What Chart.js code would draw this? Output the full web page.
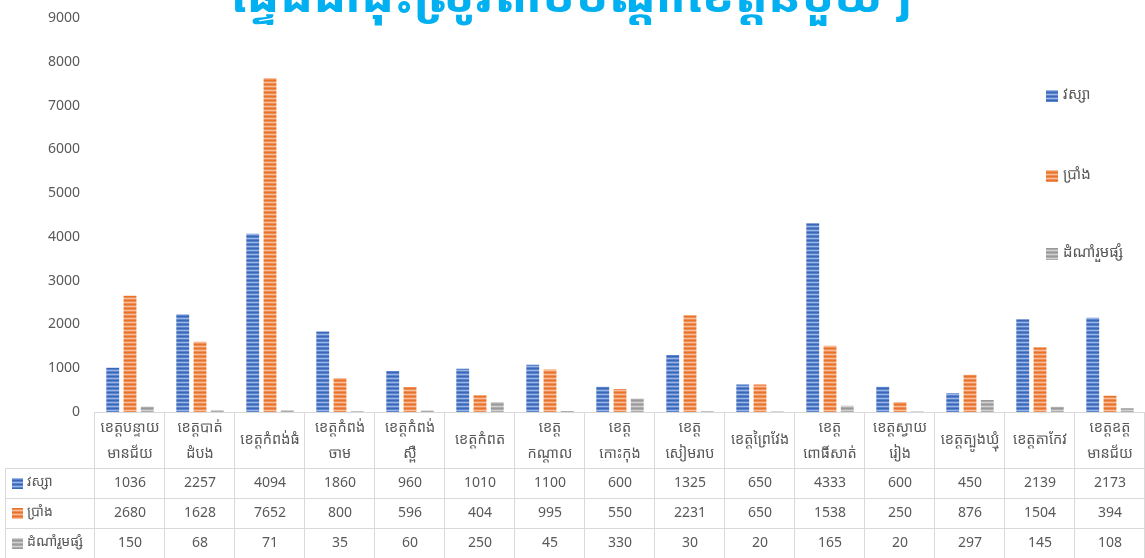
<!DOCTYPE html>
<html>
<head>
<meta charset="utf-8">
<script src="https://cdn.jsdelivr.net/npm/chart.js@4.4.0/dist/chart.umd.min.js"></script>
<style>
  html, body { margin: 0; padding: 0; background: #fff; }
  #wrap { width: 1145px; height: 558px; position: relative; }
</style>
</head>
<body>
<div id="wrap"><canvas id="chart" width="1145" height="558"></canvas></div>
<script>
// ---- data ----
const TITLE = 'ផ្ទៃដីដាំដុះស្រូវតាមបណ្ដាខេត្តនីមួយៗ';
const PROVINCES = [
  ['ខេត្តបន្ទាយ', 'មានជ័យ'], ['ខេត្តបាត់', 'ដំបង'], ['ខេត្តកំពង់ធំ'], ['ខេត្តកំពង់', 'ចាម'],
  ['ខេត្តកំពង់', 'ស្ពឺ'], ['ខេត្តកំពត'], ['ខេត្ត', 'កណ្ដាល'], ['ខេត្ត', 'កោះកុង'],
  ['ខេត្ត', 'សៀមរាប'], ['ខេត្តព្រៃវែង'], ['ខេត្ត', 'ពោធិ៍សាត់'], ['ខេត្តស្វាយ', 'រៀង'],
  ['ខេត្តត្បូងឃ្មុំ'], ['ខេត្តតាកែវ'], ['ខេត្តឧត្ត', 'មានជ័យ']
];
const SERIES_NAMES = ['វស្សា', 'ប្រាំង', 'ដំណាំរួមផ្សំ'];
const WET   = [1036, 2257, 4094, 1860, 960, 1010, 1100, 600, 1325, 650, 4333, 600, 450, 2139, 2173];
const DRY   = [2680, 1628, 7652, 800, 596, 404, 995, 550, 2231, 650, 1538, 250, 876, 1504, 394];
const MIXED = [150, 68, 71, 35, 60, 250, 45, 330, 30, 20, 165, 20, 297, 145, 108];
const Y_MAX = 9000, Y_STEP = 1000;

const FONT = "'Noto Sans Khmer', 'Khmer OS', 'Khmer OS System', 'Noto Sans', sans-serif";
const TXT = '#595959';
const LINE = '#D9D9D9';

function stripes(dark, base, light) {
  const p = document.createElement('canvas');
  p.width = 4; p.height = 4;
  const g = p.getContext('2d');
  g.fillStyle = base; g.fillRect(0, 0, 4, 4);
  g.fillStyle = dark; g.fillRect(0, 0, 4, 1);
  g.fillStyle = light; g.fillRect(0, 2, 4, 1);
  return g.createPattern(p, 'repeat');
}
const FILLS = [
  stripes('#3A66B8', '#5B84CF', '#9DB5E2'),
  stripes('#E8722A', '#F08F55', '#F6BE9C'),
  stripes('#999999', '#ADADAD', '#D2D2D2')
];

// title, legend and data table
const extras = {
  id: 'extras',
  afterDraw(chart) {
    const { ctx, chartArea: a, scales: { x } } = chart;
    ctx.save();

    // title (top is cropped in the reference)
    ctx.fillStyle = '#00B0F0';
    ctx.font = 'bold 49px ' + FONT;
    ctx.textAlign = 'center';
    ctx.textBaseline = 'alphabetic';
    ctx.fillText(TITLE, 571, 12);

    // legend
    ctx.font = '15px ' + FONT;
    ctx.textAlign = 'left';
    ctx.textBaseline = 'middle';
    [96, 176, 254].forEach((yy, i) => {
      ctx.fillStyle = FILLS[i];
      ctx.fillRect(1046, yy - 6, 12, 12);
      ctx.fillStyle = TXT;
      ctx.fillText(SERIES_NAMES[i], 1063, yy - 1);
    });

    // data table
    const n = PROVINCES.length;
    const colW = x.width / n;
    const top = a.bottom, headH = 56, rowH = 30, left = 5;
    const bottom = top + headH + rowH * 3;
    ctx.strokeStyle = LINE;
    ctx.lineWidth = 1;
    ctx.beginPath();
    ctx.moveTo(a.left, top + 0.5); ctx.lineTo(a.right, top + 0.5);
    for (let r = 0; r <= 3; r++) {
      const yy = Math.round(top + headH + rowH * r) + 0.5;
      ctx.moveTo(left, yy); ctx.lineTo(a.right, yy);
    }
    for (let c = 0; c <= n; c++) {
      const xx = Math.round(a.left + colW * c) - 0.5;
      ctx.moveTo(xx, top); ctx.lineTo(xx, bottom);
    }
    ctx.moveTo(left + 0.5, top + headH); ctx.lineTo(left + 0.5, bottom);
    ctx.stroke();

    ctx.fillStyle = TXT;
    ctx.textAlign = 'center';
    ctx.font = '14.5px ' + FONT;
    PROVINCES.forEach((lines, c) => {
      const cx = x.getPixelForValue(c);
      if (lines.length === 1) {
        ctx.fillText(lines[0], cx, top + headH / 2);
      } else {
        ctx.fillText(lines[0], cx, top + 16);
        ctx.fillText(lines[1], cx, top + 42);
      }
    });
    ctx.font = '14px ' + FONT;
    [WET, DRY, MIXED].forEach((vals, r) => {
      const cy = top + headH + rowH * r + rowH / 2;
      ctx.textAlign = 'center';
      ctx.fillStyle = TXT;
      vals.forEach((v, c) => ctx.fillText(String(v), x.getPixelForValue(c), cy));
      ctx.fillStyle = FILLS[r];
      ctx.fillRect(12, cy - 5, 11, 11);
      ctx.fillStyle = TXT;
      ctx.textAlign = 'left';
      ctx.fillText(SERIES_NAMES[r], 27, cy - 1);
    });
    ctx.restore();
  }
};

new Chart(document.getElementById('chart'), {
  type: 'bar',
  data: {
    labels: PROVINCES.map(l => l.join('')),
    datasets: [WET, DRY, MIXED].map((d, i) => ({
      label: SERIES_NAMES[i],
      data: d,
      backgroundColor: FILLS[i],
      borderColor: 'rgba(255,255,255,0.6)',
      borderWidth: 1,
      categoryPercentage: 0.74,
      barPercentage: 0.86
    }))
  },
  options: {
    responsive: false,
    animation: false,
    devicePixelRatio: 1,
    layout: { padding: { top: 18, right: 0, bottom: 146, left: 0 } },
    plugins: { legend: { display: false }, tooltip: { enabled: false }, title: { display: false } },
    scales: {
      x: { display: false },
      y: {
        min: 0, max: Y_MAX,
        afterFit(s) { s.width = 95; s.paddingTop = 0; s.paddingBottom = 0; },
        border: { display: false },
        grid: { display: false, drawTicks: false },
        ticks: {
          stepSize: Y_STEP, padding: 15, color: TXT,
          font: { size: 14, family: FONT },
          callback: v => String(v)
        }
      }
    }
  },
  plugins: [extras]
});
</script>
</body>
</html>
